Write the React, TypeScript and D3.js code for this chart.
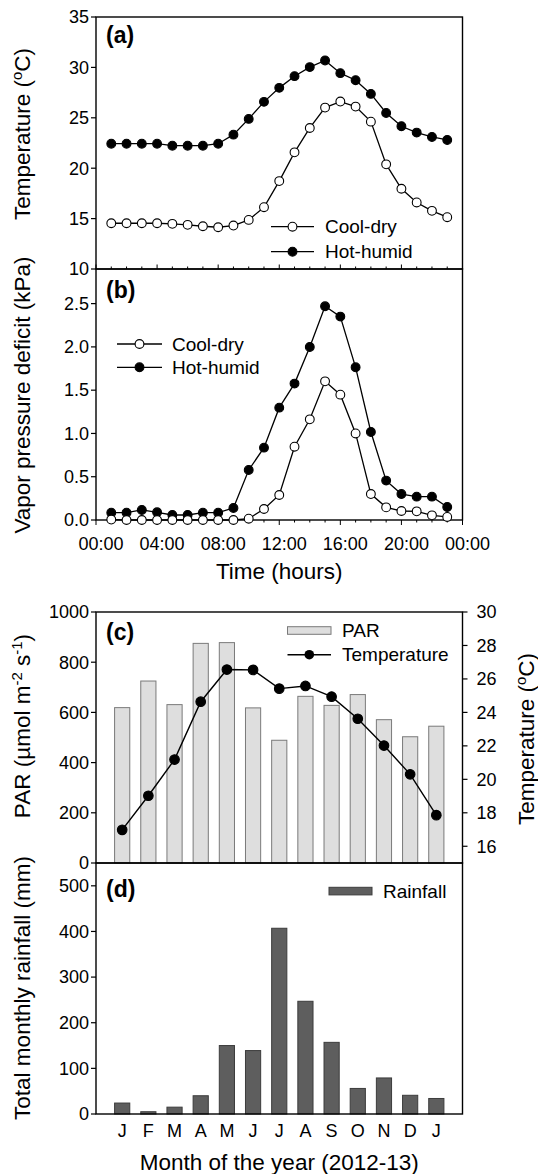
import React from 'react';
import * as d3 from 'd3';

// hourly data (a), (b)
const hours = [1, 2, 3, 4, 5, 6, 7, 8, 9, 10, 11, 12, 13, 14, 15, 16, 17, 18, 19, 20, 21, 22, 23];
const tempCool = [14.54, 14.54, 14.54, 14.54, 14.48, 14.38, 14.24, 14.14, 14.31, 14.87, 16.13, 18.72, 21.57, 23.99, 26.01, 26.61, 26.11, 24.62, 20.38, 17.96, 16.6, 15.77, 15.14];
const tempHot = [22.43, 22.43, 22.43, 22.43, 22.23, 22.23, 22.23, 22.43, 23.33, 24.89, 26.58, 27.97, 29.13, 30.03, 30.69, 29.43, 28.73, 27.37, 25.48, 24.16, 23.53, 23.1, 22.8];
const vpdCool = [0.005, 0, 0, 0, 0, 0, 0, 0, 0, 0.015, 0.127, 0.289, 0.847, 1.163, 1.602, 1.448, 1.0, 0.3, 0.146, 0.104, 0.1, 0.054, 0.035];
const vpdHot = [0.085, 0.085, 0.116, 0.089, 0.058, 0.058, 0.085, 0.085, 0.139, 0.578, 0.836, 1.298, 1.576, 1.999, 2.469, 2.35, 1.764, 1.017, 0.455, 0.3, 0.27, 0.27, 0.15];
const hourTicks = [0, 4, 8, 12, 16, 20, 24];
const hourLabels = ['00:00', '04:00', '08:00', '12:00', '16:00', '20:00', '00:00'];

// monthly data (c), (d)
const months = ['J', 'F', 'M', 'A', 'M', 'J', 'J', 'A', 'S', 'O', 'N', 'D', 'J'];
const par = [619, 725, 631, 875, 878, 618, 489, 664, 628, 671, 571, 503, 545];
const monthTemp = [16.98, 19.02, 21.18, 24.64, 26.56, 26.54, 25.42, 25.58, 24.94, 23.62, 22.02, 20.3, 17.86];
const rainfall = [24, 5, 15, 40, 150, 139, 407, 247, 157, 56, 79, 41, 34];

const W = 538;
const H = 1174;
const L = 96;
const R = 462.5;
const aTop = 17, aBot = 269, bBot = 520, cTop = 612, cBot = 863, dBot = 1114;

const FONT = '"Liberation Sans", Arial, sans-serif';
const TICK = 18;
const TITLE = 22.5;
const LEG = 19;
const SUP = 15;

const xHour = d3.scaleLinear().domain([0, 24]).range([L, R]);
const yTemp = d3.scaleLinear().domain([10, 35]).range([aBot, aTop]);
const yVpd = d3.scaleLinear().domain([0, 2.9]).range([bBot, aBot]);
const xMonth = d3.scaleLinear().domain([0, 14]).range([L, R]);
const yPar = d3.scaleLinear().domain([0, 1000]).range([cBot, cTop]);
const yTempR = d3.scaleLinear().domain([15, 30]).range([cBot, cTop]);
const yRain = d3.scaleLinear().domain([0, 550]).range([dBot, cBot]);
const barW = (xMonth(1) - xMonth(0)) * 0.58;

const LeftAxis = ({ scale, ticks, fmt }: { scale: any; ticks: number[]; fmt: (v: number) => string }) => (
  <g>
    {ticks.map((t, i) => (
      <g key={i}>
        <line x1={L - 5} x2={L} y1={scale(t)} y2={scale(t)} stroke="#000" strokeWidth={1.2} />
        <text x={L - 7} y={scale(t)} dy="0.35em" textAnchor="end" fontSize={TICK}>{fmt(t)}</text>
      </g>
    ))}
  </g>
);

const Markers = ({ xs, ys, filled, r }: { xs: number[]; ys: number[]; filled: boolean; r: number }) => (
  <g>
    {xs.map((x, i) => (
      <circle key={i} cx={x} cy={ys[i]} r={r} fill={filled ? '#000' : '#fff'} stroke="#000" strokeWidth={1.1} />
    ))}
  </g>
);

const VTitle = ({ x, y, children }: { x: number; y: number; children: any }) => (
  <text transform={`translate(${x},${y}) rotate(-90)`} textAnchor="middle" fontSize={TITLE}>{children}</text>
);

export default function App() {
  const lineHour = (ys: number[], yS: any) =>
    d3.line<number>().x((_, i) => xHour(hours[i])).y((v) => yS(v))(ys) as string;
  const lineMonth = d3.line<number>().x((_, i) => xMonth(i + 1)).y((v) => yTempR(v))(monthTemp) as string;
  const minorHours = d3.range(0, 25);

  return (
    <svg width={W} height={H} style={{ position: 'absolute', left: 0, top: 0, background: '#fff' }} fontFamily={FONT}>
      {/* ---------- (a) ---------- */}
      <rect x={L} y={aTop} width={R - L} height={aBot - aTop} fill="none" stroke="#000" strokeWidth={1.4} />
      <LeftAxis scale={yTemp} ticks={[10, 15, 20, 25, 30, 35]} fmt={(v) => String(v)} />
      {minorHours.map((h) => (
        <line key={h} x1={xHour(h)} x2={xHour(h)} y1={aBot} y2={aBot - (h % 4 === 0 ? 4.5 : 2.5)} stroke="#000" strokeWidth={1} />
      ))}
      <path d={lineHour(tempHot, yTemp)} fill="none" stroke="#000" strokeWidth={1.3} />
      <path d={lineHour(tempCool, yTemp)} fill="none" stroke="#000" strokeWidth={1.3} />
      <Markers xs={hours.map(xHour)} ys={tempHot.map(yTemp)} filled r={4.4} />
      <Markers xs={hours.map(xHour)} ys={tempCool.map(yTemp)} filled={false} r={4.4} />
      <text x={106} y={43} fontSize={23} fontWeight="bold">(a)</text>
      <VTitle x={30} y={134}>
        Temperature (<tspan dy={-8} fontSize={SUP}>o</tspan><tspan dy={8}>C)</tspan>
      </VTitle>
      {/* legend a */}
      <line x1={271} x2={314} y1={226.7} y2={226.7} stroke="#000" strokeWidth={1.3} />
      <circle cx={292.5} cy={226.7} r={4.4} fill="#fff" stroke="#000" strokeWidth={1.1} />
      <text x={325} y={226.7} dy="0.35em" fontSize={LEG}>Cool-dry</text>
      <line x1={271} x2={314} y1={251.7} y2={251.7} stroke="#000" strokeWidth={1.3} />
      <circle cx={292.5} cy={251.7} r={4.4} fill="#000" stroke="#000" strokeWidth={1.1} />
      <text x={325} y={251.7} dy="0.35em" fontSize={LEG}>Hot-humid</text>

      {/* ---------- (b) ---------- */}
      <rect x={L} y={aBot} width={R - L} height={bBot - aBot} fill="none" stroke="#000" strokeWidth={1.4} />
      <LeftAxis scale={yVpd} ticks={[0, 0.5, 1, 1.5, 2, 2.5]} fmt={(v) => d3.format('.1f')(v)} />
      {minorHours.map((h) => (
        <line key={h} x1={xHour(h)} x2={xHour(h)} y1={bBot} y2={bBot + (h % 4 === 0 ? 5 : 2.5)} stroke="#000" strokeWidth={1} />
      ))}
      {hourTicks.map((h, i) => (
        <text key={i} x={xHour(h) + 5} y={550} textAnchor="middle" fontSize={TICK}>{hourLabels[i]}</text>
      ))}
      <text x={(L + R) / 2} y={579} textAnchor="middle" fontSize={TITLE}>Time (hours)</text>
      <path d={lineHour(vpdHot, yVpd)} fill="none" stroke="#000" strokeWidth={1.3} />
      <path d={lineHour(vpdCool, yVpd)} fill="none" stroke="#000" strokeWidth={1.3} />
      <Markers xs={hours.map(xHour)} ys={vpdHot.map(yVpd)} filled r={4.4} />
      <Markers xs={hours.map(xHour)} ys={vpdCool.map(yVpd)} filled={false} r={4.4} />
      <text x={106} y={298} fontSize={23} fontWeight="bold">(b)</text>
      <VTitle x={30} y={395}>Vapor pressure deficit (kPa)</VTitle>
      {/* legend b */}
      <line x1={117} x2={162} y1={344} y2={344} stroke="#000" strokeWidth={1.3} />
      <circle cx={139.5} cy={344} r={4.4} fill="#fff" stroke="#000" strokeWidth={1.1} />
      <text x={172} y={344} dy="0.35em" fontSize={LEG}>Cool-dry</text>
      <line x1={117} x2={162} y1={367.3} y2={367.3} stroke="#000" strokeWidth={1.3} />
      <circle cx={139.5} cy={367.3} r={4.4} fill="#000" stroke="#000" strokeWidth={1.1} />
      <text x={172} y={367.3} dy="0.35em" fontSize={LEG}>Hot-humid</text>

      {/* ---------- (c) ---------- */}
      {par.map((v, i) => (
        <rect key={i} x={xMonth(i + 1) - barW / 2} y={yPar(v)} width={barW} height={yPar(0) - yPar(v)}
          fill="#dedede" stroke="#7a7a7a" strokeWidth={1} />
      ))}
      <path d={lineMonth} fill="none" stroke="#000" strokeWidth={1.4} />
      <Markers xs={monthTemp.map((_, i) => xMonth(i + 1))} ys={monthTemp.map(yTempR)} filled r={4.8} />
      <rect x={L} y={cTop} width={R - L} height={cBot - cTop} fill="none" stroke="#000" strokeWidth={1.4} />
      <LeftAxis scale={yPar} ticks={[0, 200, 400, 600, 800, 1000]} fmt={(v) => String(v)} />
      {[16, 18, 20, 22, 24, 26, 28, 30].map((t) => (
        <g key={t}>
          <line x1={R} x2={R + 5} y1={yTempR(t)} y2={yTempR(t)} stroke="#000" strokeWidth={1.2} />
          <text x={R + 14} y={yTempR(t)} dy="0.35em" fontSize={TICK}>{t}</text>
        </g>
      ))}
      <text x={106} y={640} fontSize={23} fontWeight="bold">(c)</text>
      <VTitle x={30} y={726}>
        PAR (µmol m<tspan dy={-8} fontSize={SUP}>-2</tspan><tspan dy={8}> s</tspan><tspan dy={-8} fontSize={SUP}>-1</tspan><tspan dy={8}>)</tspan>
      </VTitle>
      <VTitle x={533.5} y={739}>
        Temperature (<tspan dy={-8} fontSize={SUP}>o</tspan><tspan dy={8}>C)</tspan>
      </VTitle>
      {/* legend c */}
      <rect x={287.5} y={626.7} width={43.5} height={7.6} fill="#dedede" stroke="#7a7a7a" strokeWidth={1} />
      <text x={342} y={630.5} dy="0.35em" fontSize={LEG}>PAR</text>
      <line x1={287.5} x2={331} y1={654.7} y2={654.7} stroke="#000" strokeWidth={1.4} />
      <circle cx={309.3} cy={654.7} r={4.8} fill="#000" />
      <text x={342} y={654.7} dy="0.35em" fontSize={LEG}>Temperature</text>

      {/* ---------- (d) ---------- */}
      {rainfall.map((v, i) => (
        <rect key={i} x={xMonth(i + 1) - barW / 2} y={yRain(v)} width={barW} height={yRain(0) - yRain(v)}
          fill="#5e5e5e" stroke="#3c3c3c" strokeWidth={1} />
      ))}
      <rect x={L} y={cBot} width={R - L} height={dBot - cBot} fill="none" stroke="#000" strokeWidth={1.4} />
      <LeftAxis scale={yRain} ticks={[0, 100, 200, 300, 400, 500]} fmt={(v) => String(v)} />
      {months.map((m, i) => (
        <text key={i} x={xMonth(i + 1)} y={1137} textAnchor="middle" fontSize={TICK}>{m}</text>
      ))}
      <text x={(L + R) / 2} y={1170} textAnchor="middle" fontSize={TITLE}>Month of the year (2012-13)</text>
      <text x={106} y={897} fontSize={23} fontWeight="bold">(d)</text>
      <VTitle x={30} y={988}>Total monthly rainfall (mm)</VTitle>
      {/* legend d */}
      <rect x={329} y={887.3} width={43} height={7.6} fill="#5e5e5e" stroke="#3c3c3c" strokeWidth={1} />
      <text x={383} y={891} dy="0.35em" fontSize={LEG}>Rainfall</text>
    </svg>
  );
}
